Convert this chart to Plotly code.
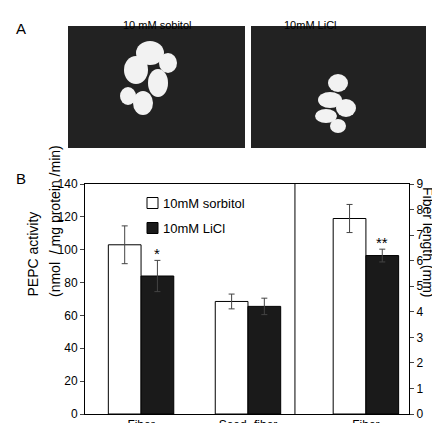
import plotly.graph_objects as go

groups = ["Fiber", "Seed -fiber", "Fiber"]
group_pos = [0.173, 0.503, 0.867]
sorbitol = [103, 68.5, 7.65]
sorbitol_err = [11.5, 4.5, 0.55]
licl = [84, 65.5, 6.2]
licl_err = [9.5, 5.0, 0.25]
stars = ["*", "", "**"]

W, H = 440, 423
bw = 0.101
fig = go.Figure()
for i in range(3):
    ya = "y" if i < 2 else "y2"
    fig.add_trace(go.Bar(x=[group_pos[i] - bw/2], y=[sorbitol[i]], width=bw, yaxis=ya,
                         marker=dict(color="white", line=dict(color="black", width=1)),
                         error_y=dict(type="data", array=[sorbitol_err[i]], color="#444", thickness=1, width=3),
                         name="10mM sorbitol", showlegend=False))
    fig.add_trace(go.Bar(x=[group_pos[i] + bw/2], y=[licl[i]], width=bw, yaxis=ya,
                         marker=dict(color="#1a1a1a", line=dict(color="black", width=1)),
                         error_y=dict(type="data", array=[licl_err[i]], color="#444", thickness=1, width=3),
                         name="10mM LiCl", showlegend=False))
    if stars[i]:
        fig.add_annotation(x=group_pos[i] + bw/2, y=licl[i] + licl_err[i], yref=ya, text=stars[i],
                           showarrow=False, yanchor="bottom", font=dict(size=15, color="black"), yshift=-4)

xd = [77/W, 401/W]
yd = [1-406/H, 1-176/H]
fig.update_layout(
    width=W, height=H, margin=dict(l=0, r=0, t=0, b=0, autoexpand=False), plot_bgcolor="white", paper_bgcolor="white",
    font=dict(family="Liberation Sans, Arial", color="black", size=12),
    barmode="overlay",
    xaxis=dict(domain=xd, range=[0, 1], tickvals=group_pos, ticktext=groups, showline=True, linecolor="black",
               mirror=True, ticks="", ticklen=0, showgrid=False, zeroline=False, tickfont=dict(size=12),
               automargin=False),
    yaxis=dict(domain=yd, range=[0, 140], dtick=20, showline=True, linecolor="black", ticks="outside",
               ticklen=4, showgrid=False, zeroline=False, tickfont=dict(size=12), automargin=False),
    yaxis2=dict(overlaying="y", side="right", range=[0, 9], dtick=1, showline=True, linecolor="black",
                ticks="outside", ticklen=4, showgrid=False, zeroline=False, tickfont=dict(size=12), automargin=False),
)
fig.add_shape(type="line", xref="x", yref="paper", x0=0.648, x1=0.648, y0=yd[0], y1=yd[1], line=dict(color="black", width=1))
for j, (lab, col) in enumerate([("10mM sorbitol", "white"), ("10mM LiCl", "#1a1a1a")]):
    yc = 1 - (195 + j*25)/H
    fig.add_shape(type="rect", xref="paper", yref="paper", x0=139/W, x1=150/W, y0=yc-5.5/H, y1=yc+5.5/H,
                  fillcolor=col, line=dict(color="black", width=1))
    fig.add_annotation(xref="paper", yref="paper", x=153/W, y=yc, text=lab, showarrow=False, xanchor="left",
                       font=dict(size=13))
fig.add_annotation(xref="paper", yref="paper", x=14/W, y=sum(yd)/2, text="PEPC activity", textangle=-90,
                   showarrow=False, font=dict(size=14))
fig.add_annotation(xref="paper", yref="paper", x=37/W, y=sum(yd)/2, text="(nmol  / mg protein /min)", textangle=-90,
                   showarrow=False, font=dict(size=14))
fig.add_annotation(xref="paper", yref="paper", x=430/W, y=sum(yd)/2, text="Fiber length (mm)", textangle=90,
                   showarrow=False, font=dict(size=14))
fig.add_annotation(xref="paper", yref="paper", x=6/W, y=1-170/H, text="B", showarrow=False, xanchor="left", font=dict(size=15))
fig.add_annotation(xref="paper", yref="paper", x=6/W, y=1-10/H, text="A", showarrow=False, xanchor="left", font=dict(size=15))
for (x0, x1, lab) in [(60, 237, "10 mM sobitol"), (243, 418, "10mM LiCl")]:
    fig.add_shape(type="rect", xref="paper", yref="paper", x0=x0/W, x1=x1/W, y0=1-140/H, y1=1-18/H,
                  fillcolor="#222", line=dict(width=0))
    fig.add_annotation(xref="paper", yref="paper", x=(x0+x1)/2/W, y=1-9/H, text=lab, showarrow=False, font=dict(size=11))
blobs = [(142, 45, 14, 12), (128, 62, 12, 14), (150, 75, 10, 14), (135, 95, 10, 12), (160, 55, 9, 10), (120, 88, 8, 9),
         (330, 75, 10, 9), (322, 92, 12, 8), (338, 100, 10, 9), (318, 108, 11, 7), (330, 118, 8, 7)]
for (cx, cy, rx, ry) in blobs:
    fig.add_shape(type="circle", xref="paper", yref="paper", x0=(cx-rx)/W, x1=(cx+rx)/W, y0=1-(cy+ry)/H, y1=1-(cy-ry)/H,
                  fillcolor="#f2f2f2", line=dict(width=0))
fig.write_html("out.html")
